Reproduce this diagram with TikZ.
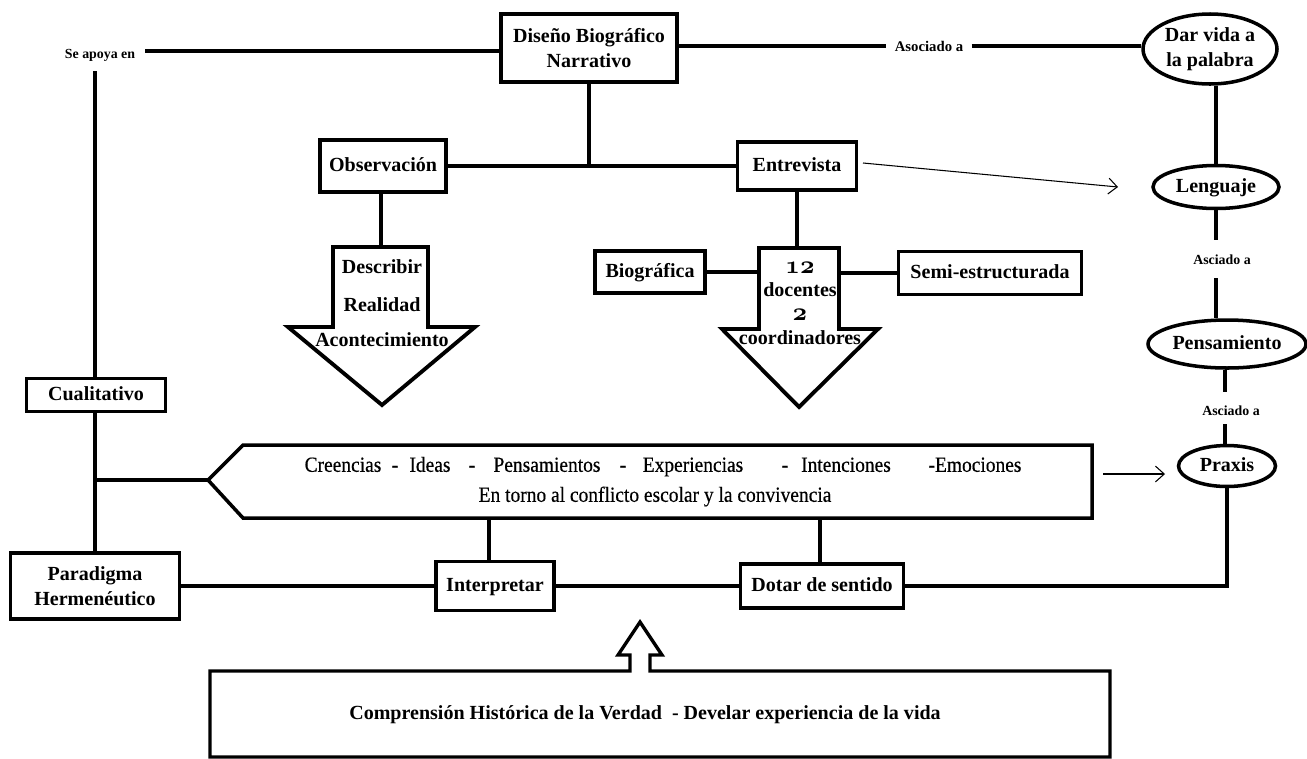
\documentclass[tikz,border=0pt]{standalone}
\usepackage{fontspec}
\setmainfont{Liberation Serif}
\newfontfamily\narrowfont{Liberation Serif}[FakeStretch=0.9,FakeBold=0.4]
\newcommand{\osnum}[1]{{\fontsize{14.5}{14}\usefont{OML}{cmm}{b}{it}#1}}
\usetikzlibrary{shapes.geometric,arrows.meta}
\begin{document}
\begin{tikzpicture}[x=0.02cm,y=-0.02cm,
  sz/.style 2 args={minimum width=#1*0.02cm,minimum height=#2*0.02cm},
  txt/.style={font=\bfseries\fontsize{11.4}{14.2}\selectfont,inner sep=0pt,align=center},
  oneline/.style={text height=0.8em,text depth=0.14em},
  box/.style={txt,draw,line width=2.2pt,rectangle},
  oval/.style={txt,draw,line width=2pt,ellipse},
  small/.style={font=\bfseries\fontsize{7.9}{9}\selectfont,inner sep=0pt,oneline},
  bannertxt/.style={font=\narrowfont\fontsize{12.3}{14}\selectfont,inner sep=0pt,oneline},
  link/.style={line width=2.2pt},
  shape line/.style={line width=2.2pt,line join=miter},
  thinarrow/.style={line width=0.6pt,-{Straight Barb[length=5pt,width=9pt]}}
]
\useasboundingbox (0,0) rectangle (1307,758);

% --- boxes ---
\node[box,sz={176}{68}] (dis) at (589,48) {Diseño Biográfico\\Narrativo};
\node[box,oneline,sz={126}{52}] (obs) at (383,166) {Observación};
\node[box,oneline,sz={119}{48}] (ent) at (797,166) {Entrevista};
\node[box,oneline,sz={110}{42}] (bio) at (650,272) {Biográfica};
\node[box,oneline,sz={183}{43}] (semi) at (990,273) {Semi-estructurada};
\node[box,oneline,sz={139}{33}] (cual) at (96,395) {Cualitativo};
\node[box,sz={169}{66}] (para) at (95,586) {Paradigma\\Hermenéutico};
\node[box,oneline,sz={118}{49}] (int) at (495,586) {Interpretar};
\node[box,oneline,sz={163}{44}] (dot) at (822,586) {Dotar de sentido};

% --- ellipses on the right ---
\node[oval,sz={134}{70}] (dvp) at (1210,49) {Dar vida a\\la palabra};
\node[oval,oneline,sz={126}{43}] (len) at (1216,187) {Lenguaje};
\node[oval,oneline,sz={158}{48}] (pen) at (1227,344) {Pensamiento};
\node[oval,oneline,sz={97}{41}] (pra) at (1227,466) {Praxis};

% --- small connector labels ---
\node[small] (apoya) at (100,53) {Se apoya en};
\node[small,font=\bfseries\fontsize{8.4}{9}\selectfont] (asoc) at (929,46) {Asociado a};
\node[small] (asc1) at (1222,259) {Asciado a};
\node[small] (asc2) at (1231,410) {Asciado a};

% --- block arrow under Observación ---
\draw[shape line] (333,247) -- (428,247) -- (428,327) -- (475,327) -- (382,405)
  -- (288,327) -- (333,327) -- cycle;
\coordinate (a1top) at (381,247);
\node[txt,oneline] (d1) at (382,268) {Describir};
\node[txt,oneline] (d2) at (382,306) {Realidad};
\node[txt,oneline] (d3) at (382,341) {Acontecimiento};

% --- block arrow under Entrevista ---
\draw[shape line] (759,248) -- (839,248) -- (839,329) -- (878,329) -- (799,407)
  -- (722,329) -- (759,329) -- cycle;
\coordinate (a2top) at (797,248);
\coordinate (a2l) at (759,273);
\coordinate (a2r) at (839,273);
\node[txt,oneline] (e1) at (800,268) {\osnum{12}};
\node[txt,oneline] (e2) at (800,291) {docentes};
\node[txt,oneline] (e3) at (800,315) {\osnum{2}};
\node[txt,oneline] (e4) at (800,339) {coordinadores};

% --- banner ---
\draw[shape line,line width=2pt] (208,480) -- (243,445) -- (1092,445) -- (1092,518)
  -- (243,518) -- cycle;
\coordinate (bntip) at (208,480);
\coordinate (bnb1) at (489,518);
\coordinate (bnb2) at (820,518);
\node[bannertxt] (w1) at (343,466) {Creencias};
\node[bannertxt] (w2) at (395,466) {-};
\node[bannertxt] (w3) at (430,466) {Ideas};
\node[bannertxt] (w4) at (472,466) {-};
\node[bannertxt] (w5) at (547,466) {Pensamientos};
\node[bannertxt] (w6) at (623,466) {-};
\node[bannertxt] (w7) at (693,466) {Experiencias};
\node[bannertxt] (w8) at (785,466) {-};
\node[bannertxt] (w9) at (846,466) {Intenciones};
\node[bannertxt] (w10) at (975,466) {-Emociones};
\node[bannertxt] (w11) at (655,496) {En torno al conflicto escolar y la convivencia};

% --- bottom box with up arrow ---
\draw[shape line,line width=1.9pt] (210,671) -- (630,671) -- (630,655) -- (618,655)
  -- (640,622) -- (662,655) -- (650,655) -- (650,671) -- (1110,671) -- (1110,757)
  -- (210,757) -- cycle;
\node[txt,oneline] (comp) at (645,714) {Comprensión Histórica de la Verdad\ \ - Develar experiencia de la vida};

% --- connectors ---
\coordinate (apoyaend) at (145,51);
\coordinate (apoyadown) at (95,71);
\draw[link] (dis.west |- apoyaend) -- (apoyaend);
\draw[link] (apoyadown) -- (apoyadown |- cual.north);
\draw[link] (dis.east |- asoc) -- ([xshift=-0.16cm]asoc.west);
\draw[link] ([xshift=0.16cm]asoc.east) -- (dvp.west |- asoc);
\draw[link] (dis.south) -- (dis.south |- obs.east);
\draw[link] (obs.east) -- (ent.west);
\draw[link] (obs.south -| a1top) -- (a1top);
\draw[link] (ent.south) -- (a2top);
\draw[link] (bio.east) -- (bio.east -| a2l);
\draw[link] (a2r) -- (a2r -| semi.west);
\coordinate (entarr) at (863,163);
\coordinate (lenarr) at (1118,187);
\draw[thinarrow] (entarr) -- (lenarr);

\coordinate (lenline) at (1216,240);
\coordinate (asc1bot) at (1216,278);
\coordinate (penline) at (1225,392);
\coordinate (asc2bot) at (1225,424);
\draw[link] (len.south) -- (lenline);
\draw[link] (len.north) -- (len.north |- dvp.south);
\draw[link] (asc1bot) -- (asc1bot |- pen.north);
\draw[link] (penline |- pen.south) -- (penline);
\draw[link] (asc2bot) -- (asc2bot |- pra.north);

\coordinate (pa0) at (1103,474);
\coordinate (pa1) at (1165,474);
\draw[thinarrow] (pa0) -- (pa1);

\draw[link] (para.north |- cual.south) -- (para.north);
\draw[link] (para.north |- bntip) -- (bntip);
\draw[link] (bnb1) -- (bnb1 |- int.north);
\draw[link] (bnb2) -- (bnb2 |- dot.north);
\draw[link] (para.east) -- (int.west);
\draw[link] (int.east) -- (dot.west);
\draw[link] (pra.south) -- (pra.south |- dot.east) -- (dot.east);
\end{tikzpicture}
\end{document}
